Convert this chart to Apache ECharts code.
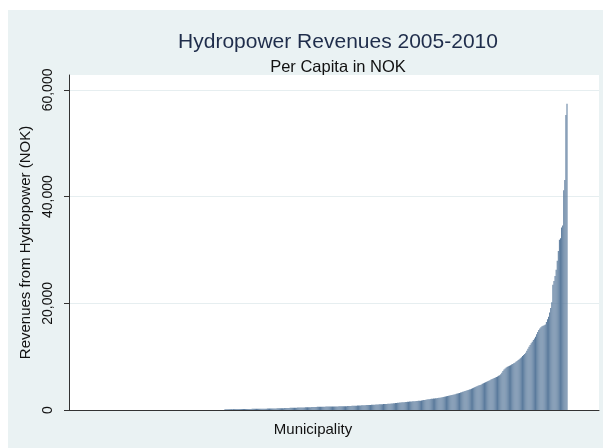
<!DOCTYPE html>
<html>
<head>
<meta charset="utf-8">
<script src="https://cdn.jsdelivr.net/npm/echarts@6/dist/echarts.min.js"></script>
<style>
    body { margin: 0; background: #ffffff; }
    .frame { position: absolute; left: 8px; top: 10px; width: 595px; height: 438px; background: #eaf2f3; }
    .echarts { position: absolute; left: 0; top: 0; width: 603px; height: 448px; }
</style>
</head>
<body>
<div class="frame"></div>
<div id="chart" class="echarts"></div>
<script>
// per capita hydropower revenue (NOK), municipalities sorted ascending
const revenues = [
    0,0,0,0,0,0,0,0,0,0,0,0,0,0,0,0,0,0,0,
    0,0,0,0,0,0,0,0,0,0,0,0,0,0,0,0,0,0,0,
    0,0,0,0,0,0,0,0,0,0,0,0,0,0,0,0,0,0,0,
    0,0,0,0,0,0,0,0,0,0,0,0,0,0,0,0,0,0,0,
    0,0,0,0,0,0,0,0,0,0,0,0,0,0,0,0,0,0,0,
    0,0,0,0,0,0,0,0,0,0,0,0,0,0,0,0,0,0,0,
    140,145,150,152,155,158,160,162,165,168,170,172,175,178,
    180,182,185,188,190,193,196,199,202,205,208,211,214,218,
    221,224,227,230,234,238,241,245,249,252,256,259,
    264,270,275,281,287,293,299,304,309,314,319,
    327,335,343,351,359,367,375,383,391,399,407,415,422,429,
    436,443,450,457,464,471,478,485,492,499,506,513,520,527,
    538,546,554,562,570,578,586,594,602,610,618,
    622,626,630,634,638,642,646,650,654,658,662,666,670,674,678,682,686,690,694,697,700,
    710,721,732,743,754,765,776,787,798,809,820,831,842,853,864,875,886,897,908,918,926,933,940,
    953,966,979,992,1005,1018,1031,1044,1057,1070,1083,1096,1109,1122,1135,1148,1161,1175,1189,
    1210,1232,1254,1276,1298,1320,1342,1364,1386,1408,1430,1452,1475,1498,
    1518,1536,1554,1572,1590,1608,1626,1644,1662,1680,1698,1716,1734,1750,
    1785,1820,1855,1890,1925,1960,1995,2030,2060,
    2087,2114,2141,2168,2195,2222,2249,2276,2300,
    2344,2388,2432,2476,2520,2564,2608,2652,2696,
    2755,2810,2865,2920,2975,3030,3085,3140,3195,
    3270,3340,3410,3480,3550,3620,3690,3760,3830,3900,
    3990,4080,4170,4260,4350,4440,4530,4620,4700,
    4800,4900,5000,5100,5200,5300,5400,5500,5600,
    5700,5800,5900,6000,6100,6200,6300,
    6400,6500,6700,7000,7300,7600,7800,
    7950,8100,8200,8300,8400,
    8520,8640,8760,8880,
    9050,9200,9350,9500,9700,
    9900,10100,10300,10500,10750,
    11100,11500,11850,12200,
    12500,12800,13100,13400,13750,
    14200,14600,15000,
    15300,15500,15700,15800,15900,16050,
    16500,17000,17500,
    18300,19100,
    20200,23500,
    24200,25100,26300,
    28000,29800,31900,32200,34200,34600,
    41200,43100,55300,57400
]
const yTicks = [0, 20000, 40000, 60000]
const titleText = 'Hydropower Revenues 2005-2010'
const subtitleText = 'Per Capita in NOK'
const yName = 'Revenues from Hydropower (NOK)'
const xName = 'Municipality'

// place bars: first non-zero bar near x=225, last at x=567, plot from 69 to 599
const n = revenues.length
const first = revenues.findIndex(v => v > 0) + 1
const step = (567 - 225) / (n - first)
const xMin = first - (225 - 69) / step
const xMax = n + (599 - 567) / step

const mychart = echarts.init(document.getElementById('chart'))
const options = {
    backgroundColor: 'transparent',
    animation: false,
    title: [
        {
            text: titleText,
            left: 333,
            top: 27,
            textAlign: 'center',
            textStyle: { color: '#1f2d4b', fontSize: 21, fontWeight: 'normal', fontFamily: 'Liberation Sans' }
        },
        {
            text: subtitleText,
            left: 333,
            top: 54,
            textAlign: 'center',
            textStyle: { color: '#111111', fontSize: 16.5, fontWeight: 'normal', fontFamily: 'Liberation Sans' }
        }
    ],
    grid: {
        left: 69,
        right: 4,
        top: 75,
        bottom: 38,
        show: true,
        backgroundColor: '#ffffff',
        borderWidth: 0
    },
    xAxis: {
        type: 'value',
        min: xMin,
        max: xMax,
        name: xName,
        nameLocation: 'middle',
        nameGap: 12,
        nameTextStyle: {
            color: '#111111',
            fontSize: 15,
            fontFamily: 'Liberation Sans',
            padding: [0, 42, 0, 0]
        },
        axisLine: { show: true, onZero: false, lineStyle: { color: '#333333', width: 1 } },
        axisTick: { show: false },
        axisLabel: { show: false },
        splitLine: { show: false }
    },
    yAxis: {
        type: 'value',
        min: 0,
        max: 62800,
        interval: 20000,
        name: yName,
        nameLocation: 'middle',
        nameGap: 27,
        nameTextStyle: { color: '#111111', fontSize: 15, fontFamily: 'Liberation Sans' },
        axisLine: { show: true, onZero: false, lineStyle: { color: '#333333', width: 1 } },
        axisTick: {
            show: true,
            length: 5,
            customValues: yTicks,
            lineStyle: { color: '#333333' }
        },
        axisLabel: {
            rotate: 90,
            margin: 14,
            customValues: yTicks,
            color: '#111111',
            fontSize: 14,
            fontFamily: 'Liberation Sans'
        },
        splitLine: { show: true, lineStyle: { color: '#e6eef0', width: 1 } }
    },
    series: [
        {
            name: 'Revenue',
            type: 'bar',
            barWidth: '75%',
            itemStyle: { color: '#5a7a9c' },
            data: revenues.map((v, i) => [i + 1, v])
        }
    ]
}
mychart.setOption(options)
</script>
</body>
</html>
